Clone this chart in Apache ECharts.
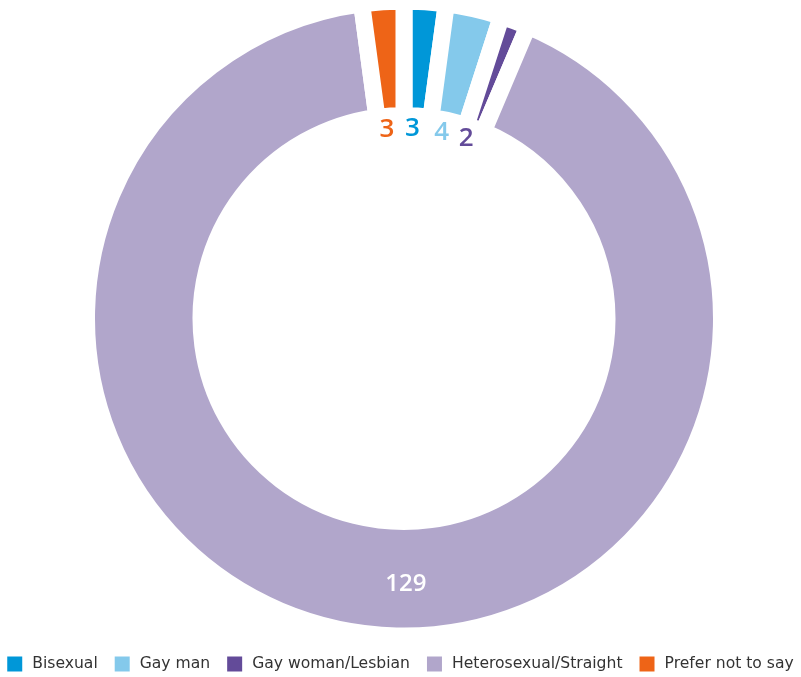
<!DOCTYPE html>
<html>
<head>
<meta charset="utf-8">
<script src="https://cdn.jsdelivr.net/npm/echarts@6/dist/echarts.min.js"></script>
<style>
  html, body { margin: 0; padding: 0; background: #fff; }
  #chart { width: 801px; height: 677px; }
</style>
</head>
<body>
<div id="chart"></div>
<script>
const categories = ['Bisexual', 'Gay man', 'Gay woman/Lesbian', 'Heterosexual/Straight', 'Prefer not to say'];
const counts = [3, 4, 2, 129, 3];
const colors = ['#0097d8', '#84c9eb', '#634b99', '#b1a6cb', '#ee6417'];
// which values sit in the hole rather than on the ring
const outsideLabel = [true, true, true, false, true];

const chart = echarts.init(document.getElementById('chart'));

const ringData = categories.map((name, i) => ({
    name: name,
    value: counts[i],
    itemStyle: { color: colors[i] },
    label: { show: !outsideLabel[i] }
}));

const holeData = categories.map((name, i) => ({
    name: name,
    value: counts[i],
    label: { show: outsideLabel[i], color: colors[i] }
}));

chart.setOption({
    animation: false,
    color: colors,
    legend: {
        data: categories,
        bottom: 0,
        left: 'center',
        width: 801,
        padding: [5, 0],
        icon: 'rect',
        itemWidth: 15,
        itemHeight: 15,
        itemGap: 17,
        selectedMode: false,
        itemStyle: { borderWidth: 0 },
        textStyle: {
            fontFamily: 'DejaVu Sans',
            fontSize: 15.6,
            color: '#333',
            padding: [0, 0, 0, 5]
        }
    },
    series: [
        {
            type: 'pie',
            center: [404, 318.5],
            radius: [203, 317.5],
            startAngle: 90,
            clockwise: true,
            silent: true,
            itemStyle: { borderColor: '#fff', borderWidth: 17 },
            label: {
                position: 'inside',
                color: '#fff',
                fontFamily: 'Open Sans',
                fontWeight: 600,
                fontSize: 24,
                formatter: '{c}'
            },
            labelLayout: function (p) {
                return p.dataIndex === 3 ? { dx: 37, dy: 5 } : {};
            },
            labelLine: { show: false },
            data: ringData
        },
        {
            type: 'pie',
            center: [404, 318.5],
            radius: [181, 193],
            startAngle: 91.3,
            clockwise: true,
            silent: true,
            itemStyle: { color: 'rgba(0,0,0,0)' },
            label: {
                position: 'inside',
                fontFamily: 'Open Sans',
                fontWeight: 600,
                fontSize: 26,
                formatter: '{c}'
            },
            labelLine: { show: false },
            data: holeData
        }
    ]
});
</script>
</body>
</html>
